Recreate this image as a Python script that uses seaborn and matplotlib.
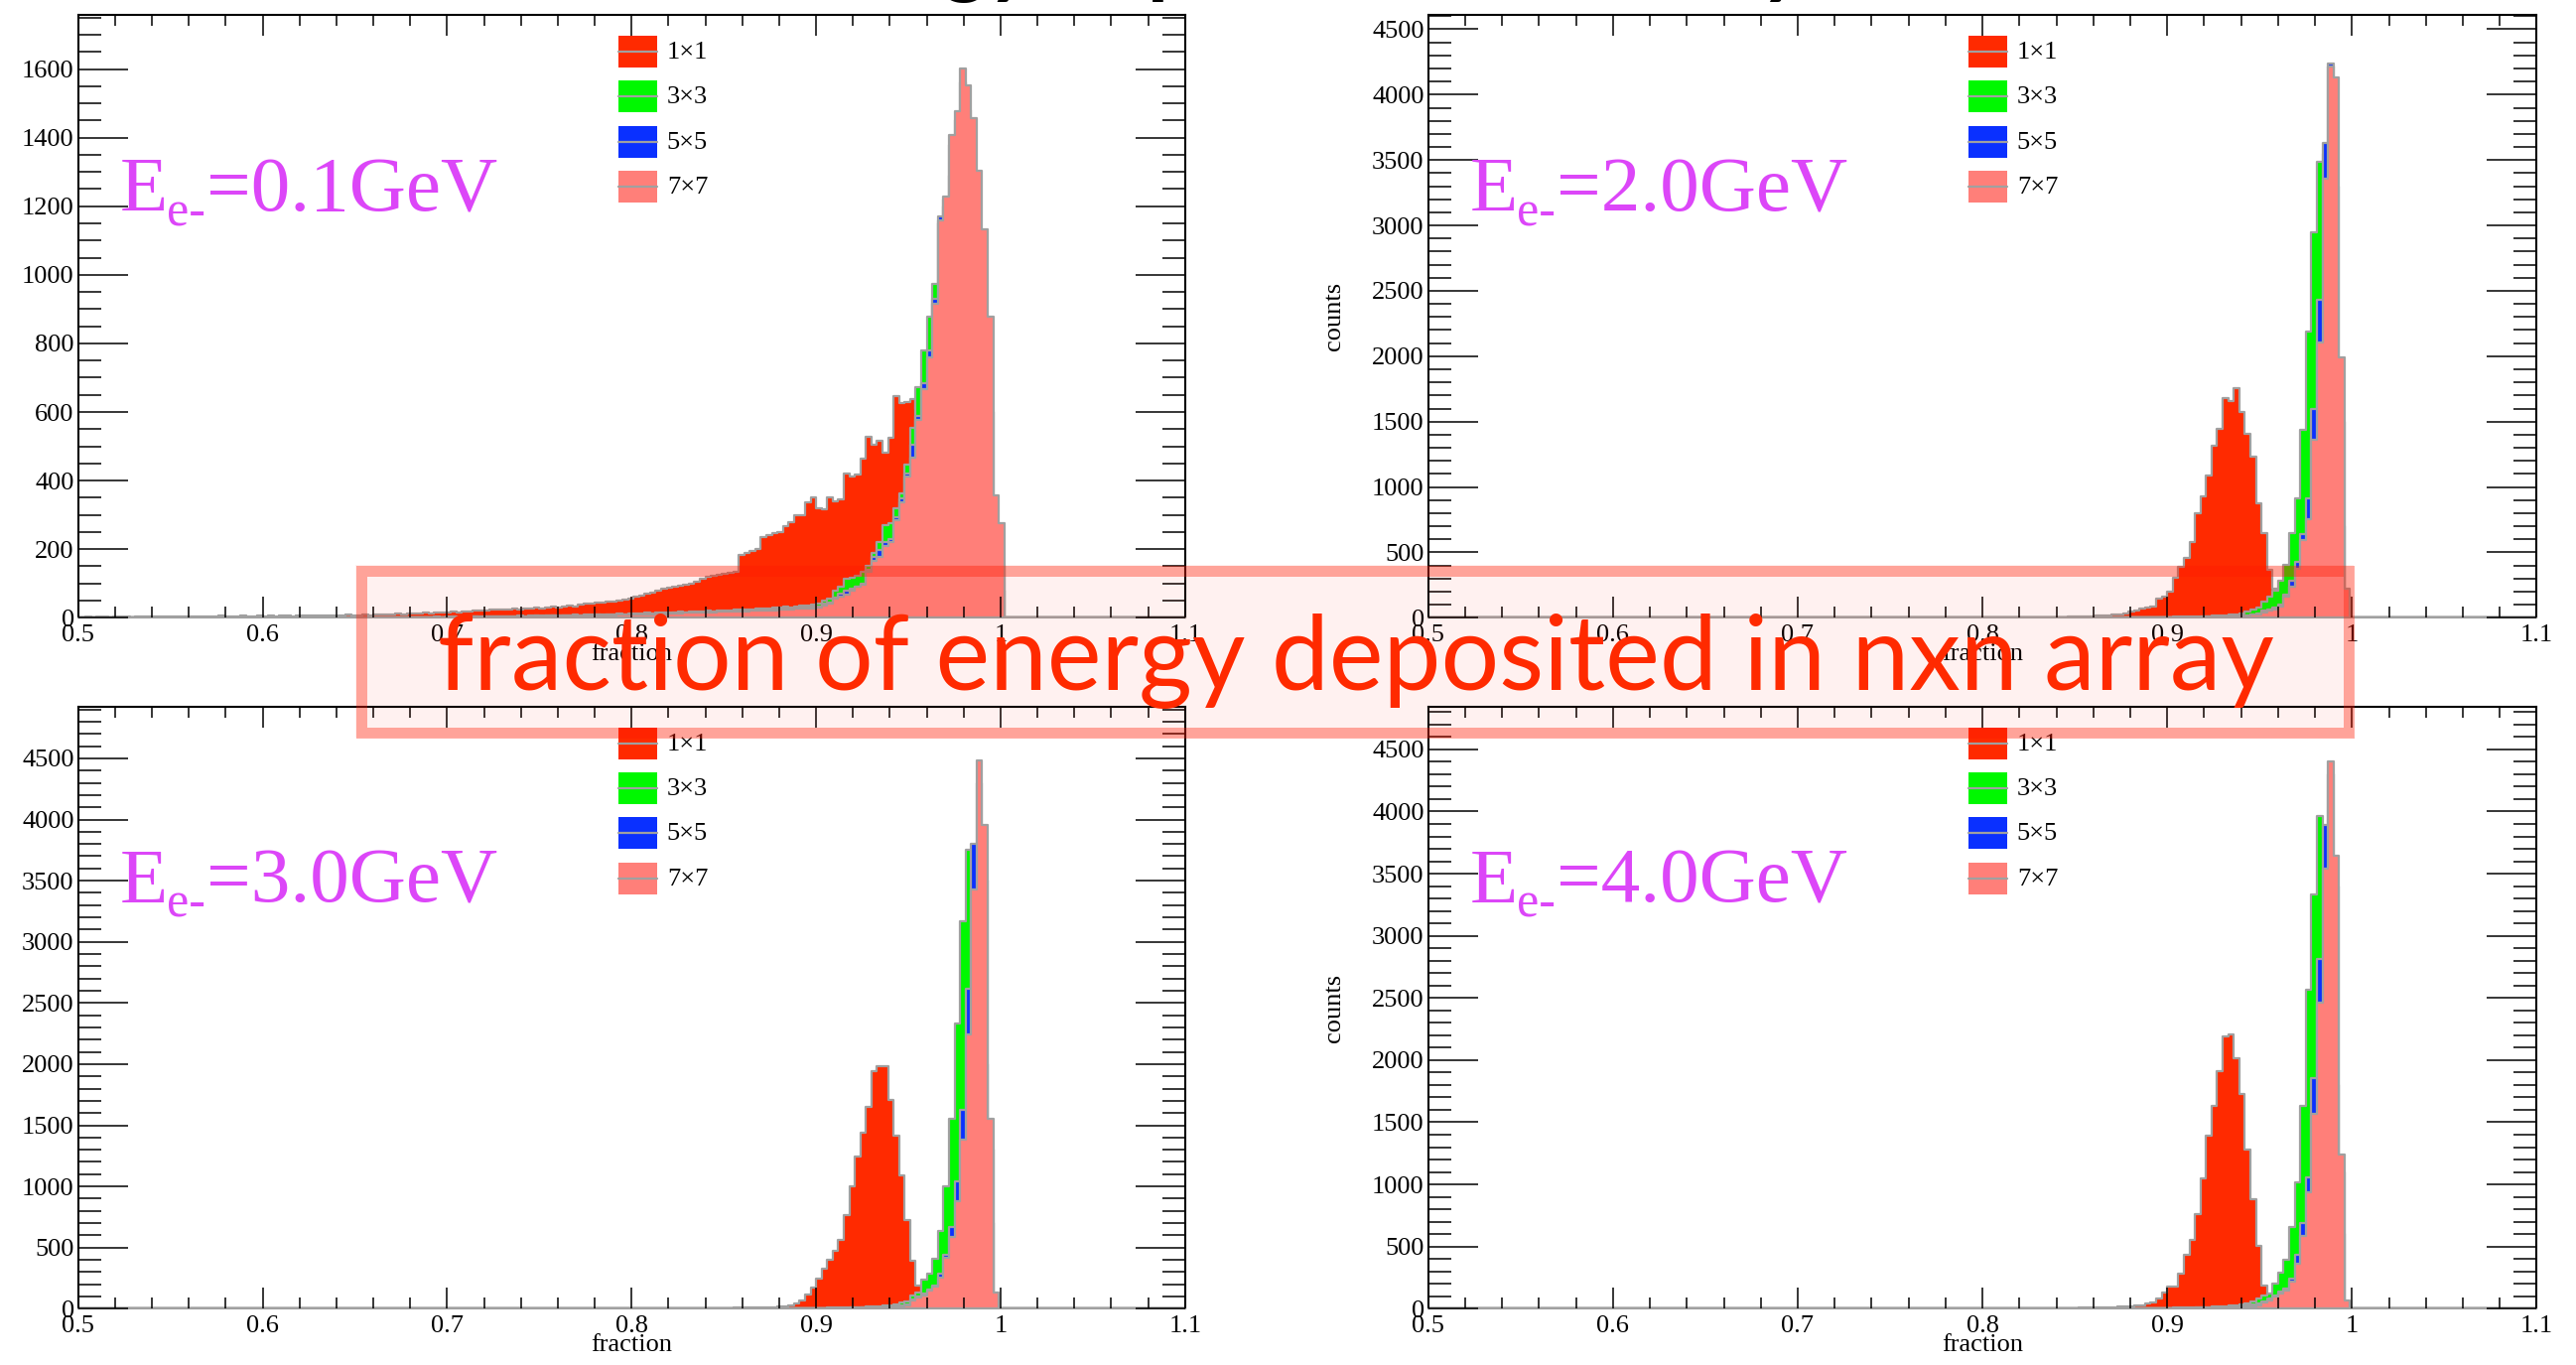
import numpy as np
import pandas as pd
import matplotlib
matplotlib.use("Agg")
import matplotlib.pyplot as plt
import seaborn as sns
from matplotlib.patches import Rectangle
from matplotlib.lines import Line2D
from matplotlib.ticker import MultipleLocator, FixedLocator
from matplotlib.transforms import IdentityTransform

sns.set_style("white")
plt.rcParams['font.family'] = ['Liberation Serif', 'DejaVu Serif']
plt.rcParams['text.color'] = 'black'
plt.rcParams['xtick.color'] = 'black'
plt.rcParams['ytick.color'] = 'black'

# ---------------- data ----------------
SERIES = ["1×1", "3×3", "5×5", "7×7"]
ENERGIES = ["0.1", "2.0", "3.0", "4.0"]
BIN_WIDTH = 0.003
EDGE_LO = 0.498
N_BINS = 202

# E = 0.1 GeV
E01_1x1_start = 0.501
E01_1x1 = [2, 3, 2, 4, 3, 2, 3, 4, 3, 2,
           3, 4, 3, 3, 5, 4, 3, 4, 5, 4,
           4, 3, 5, 4, 4, 6, 5, 4, 5, 6,
           5, 4, 6, 5, 7, 5, 6, 6, 5, 7,
           6, 7, 6, 8, 7, 6, 8, 7, 9, 8,
           8, 9, 8, 10, 9, 11, 10, 12, 11, 12,
           13, 12, 14, 13, 15, 14, 16, 17, 16, 18,
           19, 20, 22, 21, 24, 23, 25, 24, 26, 25,
           27, 26, 29, 28, 30, 32, 31, 33, 35, 34,
           38, 40, 42, 44, 43, 46, 48, 50, 52, 55,
           62, 66, 70, 72, 80, 84, 88, 90, 94, 96,
           100, 104, 115, 120, 122, 125, 128, 130, 135, 182,
           190, 196, 200, 236, 242, 248, 250, 268, 280, 300,
           300, 338, 350, 320, 315, 350, 341, 346, 422, 412,
           417, 463, 527, 506, 515, 482, 526, 646, 627, 628,
           638, 610, 560, 480, 400, 320, 250, 190, 140, 100,
           70, 50, 30, 20, 10, 5, 2]
E01_3x3_start = 0.651
E01_3x3 = [1, 0, 1, 1, 0, 1, 2, 1, 1, 2,
           2, 1, 2, 2, 3, 2, 3, 3, 2, 3,
           3, 4, 3, 4, 4, 5, 4, 5, 5, 6,
           5, 6, 6, 7, 6, 7, 8, 7, 8, 9,
           8, 9, 10, 9, 10, 11, 10, 12, 11, 12,
           12, 13, 14, 13, 15, 14, 16, 15, 17, 16,
           18, 17, 19, 20, 19, 21, 22, 21, 23, 24,
           25, 24, 27, 26, 28, 30, 29, 32, 31, 34,
           35, 37, 38, 41, 51, 57, 79, 90, 114, 117,
           122, 133, 150, 188, 220, 269, 275, 319, 362, 446,
           553, 673, 780, 878, 973, 1150, 1200, 1290, 1350, 1300,
           1150, 950, 700, 480, 300, 150, 80]
E01_5x5_start = 0.651
E01_5x5 = [0, 1, 0, 1, 1, 0, 1, 1, 1, 1,
           1, 2, 1, 2, 2, 2, 2, 3, 2, 3,
           3, 3, 3, 4, 3, 4, 4, 4, 5, 4,
           5, 5, 6, 5, 6, 6, 7, 6, 7, 7,
           7, 8, 8, 9, 8, 9, 9, 10, 10, 10,
           11, 11, 12, 12, 13, 12, 13, 14, 14, 15,
           15, 16, 16, 17, 18, 17, 19, 19, 20, 21,
           21, 22, 23, 23, 24, 25, 26, 27, 28, 29,
           30, 31, 33, 34, 40, 45, 60, 70, 80, 84,
           90, 100, 141, 177, 199, 221, 231, 293, 348, 422,
           504, 588, 684, 779, 929, 1170, 1220, 1380, 1450, 1560,
           1480, 1300, 1100, 850, 600, 250, 150]
E01_7x7_start = 0.651
E01_7x7 = [0, 0, 1, 0, 0, 1, 0, 1, 0, 1,
           1, 1, 1, 2, 1, 2, 2, 1, 2, 2,
           2, 3, 2, 3, 3, 3, 4, 3, 4, 4,
           4, 4, 5, 5, 5, 6, 5, 6, 6, 7,
           6, 7, 7, 8, 7, 8, 8, 9, 9, 9,
           10, 10, 11, 11, 12, 11, 12, 13, 13, 14,
           14, 15, 15, 16, 16, 17, 17, 18, 18, 19,
           19, 20, 20, 21, 22, 22, 23, 24, 25, 26,
           26, 27, 28, 30, 35, 41, 57, 62, 68, 79,
           90, 97, 133, 166, 177, 209, 220, 286, 337, 413,
           468, 577, 667, 758, 915, 1160, 1229, 1408, 1476, 1601,
           1553, 1456, 1303, 1133, 878, 356, 275]

# E = 2.0 GeV
E20_1x1_start = 0.801
E20_1x1 = [1, 2, 1, 2, 2, 3, 2, 3, 3, 4,
           4, 5, 5, 6, 6, 7, 8, 9, 10, 12,
           14, 16, 18, 22, 28, 36, 46, 55, 69, 75,
           83, 143, 163, 197, 306, 386, 454, 577, 797, 929,
           1091, 1319, 1448, 1677, 1654, 1756, 1577, 1406, 1234, 877,
           649, 363, 220, 110, 60, 30, 15, 8, 4, 2,
           1]
E20_3x3_start = 0.861
E20_3x3 = [1, 1, 2, 2, 2, 3, 3, 3, 4, 4,
           5, 5, 6, 6, 7, 8, 8, 9, 10, 12,
           13, 15, 17, 20, 24, 28, 35, 45, 60, 80,
           126, 163, 206, 283, 406, 649, 911, 1434, 2185, 2948,
           3490, 3550, 3000, 1800, 700, 100]
E20_5x5_start = 0.861
E20_5x5 = [0, 1, 1, 1, 1, 2, 2, 2, 2, 3,
           3, 3, 4, 4, 4, 5, 5, 6, 6, 7,
           8, 9, 10, 11, 13, 15, 17, 20, 24, 30,
           52, 62, 75, 101, 178, 283, 426, 643, 911, 1597,
           2433, 3633, 4235, 3300, 1500, 180]
E20_7x7_start = 0.861
E20_7x7 = [0, 0, 1, 1, 1, 1, 1, 2, 2, 2,
           2, 3, 3, 3, 4, 4, 5, 5, 6, 6,
           7, 8, 9, 10, 11, 13, 15, 18, 22, 28,
           44, 54, 63, 83, 158, 234, 377, 597, 757, 1363,
           2105, 3361, 4219, 4133, 1991, 226]

# E = 3.0 GeV
E30_1x1_start = 0.801
E30_1x1 = [1, 1, 2, 1, 2, 2, 2, 3, 2, 3,
           3, 3, 4, 4, 5, 5, 6, 6, 7, 8,
           8, 9, 10, 11, 12, 14, 16, 20, 28, 45,
           70, 120, 170, 250, 330, 400, 470, 559, 767, 1002,
           1247, 1436, 1653, 1940, 1980, 1980, 1706, 1415, 1094, 727,
           392, 193, 120, 60, 30, 15, 8, 4, 2, 1]
E30_3x3_start = 0.861
E30_3x3 = [1, 1, 1, 2, 2, 2, 3, 3, 3, 4,
           4, 5, 5, 6, 6, 7, 8, 9, 10, 11,
           12, 14, 16, 18, 21, 25, 30, 38, 48, 62,
           105, 132, 238, 284, 407, 636, 1002, 1552, 2331, 3171,
           3752, 3700, 3400, 2000, 700, 60]
E30_5x5_start = 0.861
E30_5x5 = [0, 1, 1, 1, 1, 1, 2, 2, 2, 2,
           3, 3, 3, 4, 4, 5, 5, 6, 6, 7,
           8, 9, 10, 11, 13, 15, 18, 22, 28, 35,
           78, 98, 125, 155, 187, 284, 437, 666, 1042, 1628,
           2615, 3804, 4300, 3500, 1300, 100]
E30_7x7_start = 0.861
E30_7x7 = [0, 0, 1, 0, 1, 1, 1, 1, 2, 2,
           2, 2, 3, 3, 3, 4, 4, 5, 5, 6,
           6, 7, 8, 9, 10, 12, 14, 18, 22, 28,
           70, 90, 110, 147, 178, 258, 413, 590, 880, 1384,
           2239, 3431, 4485, 3956, 1552, 131]

# E = 4.0 GeV
E40_1x1_start = 0.801
E40_1x1 = [1, 1, 1, 2, 1, 2, 2, 2, 3, 2,
           3, 3, 4, 4, 5, 5, 6, 7, 8, 9,
           10, 11, 12, 13, 15, 17, 20, 25, 30, 39,
           54, 85, 130, 175, 180, 280, 430, 550, 761, 1046,
           1392, 1633, 1909, 2189, 2204, 2014, 1729, 1278, 881, 506,
           190, 90, 45, 22, 11, 6, 3, 2, 1, 0]
E40_3x3_start = 0.861
E40_3x3 = [1, 1, 2, 2, 2, 3, 3, 3, 4, 4,
           5, 5, 6, 6, 7, 8, 9, 10, 11, 12,
           14, 16, 18, 21, 25, 30, 37, 46, 60, 85,
           110, 124, 204, 286, 394, 656, 1017, 1633, 2570, 3332,
           3968, 3800, 3200, 1800, 600, 40]
E40_5x5_start = 0.861
E40_5x5 = [0, 1, 1, 1, 1, 2, 2, 2, 2, 3,
           3, 3, 4, 4, 5, 5, 6, 6, 7, 8,
           9, 10, 11, 13, 15, 18, 22, 27, 34, 45,
           60, 80, 105, 135, 160, 240, 436, 686, 1055, 1858,
           2811, 3893, 4300, 3400, 1100, 60]
E40_7x7_start = 0.861
E40_7x7 = [0, 0, 0, 1, 1, 1, 1, 1, 1, 2,
           2, 2, 2, 3, 3, 3, 4, 4, 5, 5,
           6, 7, 8, 9, 10, 12, 14, 17, 22, 30,
           50, 70, 95, 125, 150, 215, 364, 586, 935, 1566,
           2459, 3542, 4407, 3641, 1242, 69]

PANEL_SERIES = [
    [(E01_1x1_start, E01_1x1), (E01_3x3_start, E01_3x3), (E01_5x5_start, E01_5x5), (E01_7x7_start, E01_7x7)],
    [(E20_1x1_start, E20_1x1), (E20_3x3_start, E20_3x3), (E20_5x5_start, E20_5x5), (E20_7x7_start, E20_7x7)],
    [(E30_1x1_start, E30_1x1), (E30_3x3_start, E30_3x3), (E30_5x5_start, E30_5x5), (E30_7x7_start, E30_7x7)],
    [(E40_1x1_start, E40_1x1), (E40_3x3_start, E40_3x3), (E40_5x5_start, E40_5x5), (E40_7x7_start, E40_7x7)],
]
Y_MAX = [1758, 4610, 4924, 4845]
Y_MAJOR_TICKS = [[0, 200, 400, 600, 800, 1000, 1200, 1400, 1600],
                 [0, 500, 1000, 1500, 2000, 2500, 3000, 3500, 4000, 4500],
                 [0, 500, 1000, 1500, 2000, 2500, 3000, 3500, 4000, 4500],
                 [0, 500, 1000, 1500, 2000, 2500, 3000, 3500, 4000, 4500]]
Y_MINOR_STEP = [50, 100, 100, 100]
X_TICKS = [0.5, 0.6, 0.7, 0.8, 0.9, 1.0, 1.1]
X_TICK_LABELS = ["0.5", "0.6", "0.7", "0.8", "0.9", "1", "1.1"]

# ---------------- style ----------------
FILL_COLORS = ['#ff2a00', '#00f800', '#0a30ff', '#ff7f79']
GREY = '#a0a0a0'
MAGENTA = '#dc46f8'
OVER_RED = '#ff1a00'

EDGES = [round(EDGE_LO + BIN_WIDTH * i, 3) for i in range(N_BINS + 1)]
CENTERS = [0.5 * (a + b) for a, b in zip(EDGES[:-1], EDGES[1:])]


def expand(start, vals):
    full = np.zeros(N_BINS)
    i0 = int(round((start - EDGE_LO) / BIN_WIDTH))
    full[i0:i0 + len(vals)] = vals
    return full


W, H = 2595, 1375
fig = plt.figure(figsize=(W / 100, H / 100), dpi=100)
fig.patch.set_facecolor('white')
renderer = fig.canvas.get_renderer()

BOXES = [(78.8, 15.0, 1193.8, 622.3), (1438.8, 15.0, 2555.4, 622.3),
         (78.8, 711.7, 1193.8, 1318.3), (1438.8, 711.7, 2555.4, 1318.3)]

for k, (x0, y0, x1, y1) in enumerate(BOXES):
    aw, ah = x1 - x0, y1 - y0
    ax = fig.add_axes([x0 / W, 1 - y1 / H, aw / W, ah / H])
    ax.set_facecolor('white')
    ax.set_axisbelow(False)
    for (start, vals), col in zip(PANEL_SERIES[k], FILL_COLORS):
        df = pd.DataFrame({'fraction': CENTERS, 'counts': expand(start, vals)})
        sns.histplot(data=df, x='fraction', weights='counts', bins=EDGES,
                     element='step', fill=True, color=col, alpha=1,
                     edgecolor=GREY, linewidth=1.6, ax=ax)
    ax.set_xlim(0.5, 1.1)
    ax.set_ylim(0, Y_MAX[k])
    ax.set_xlabel('')
    ax.set_ylabel('')
    ax.xaxis.set_major_locator(FixedLocator(X_TICKS))
    ax.set_xticklabels(X_TICK_LABELS)
    ax.xaxis.set_minor_locator(MultipleLocator(0.02))
    ax.yaxis.set_major_locator(FixedLocator(Y_MAJOR_TICKS[k]))
    ax.set_yticklabels([str(v) for v in Y_MAJOR_TICKS[k]])
    ax.yaxis.set_minor_locator(MultipleLocator(Y_MINOR_STEP[k]))
    ax.tick_params(axis='x', which='major', direction='in', length=14.9, width=1.1,
                   top=True, bottom=True, labelsize=19, pad=5, colors='black')
    ax.tick_params(axis='x', which='minor', direction='in', length=7.7, width=1.1,
                   top=True, bottom=True, colors='black')
    ax.tick_params(axis='y', which='major', direction='in', length=36, width=1.1,
                   left=True, right=True, labelsize=19, pad=3, colors='black')
    ax.tick_params(axis='y', which='minor', direction='in', length=16.6, width=1.1,
                   left=True, right=True, colors='black')
    for side, sp in ax.spines.items():
        sp.set_visible(True)
        sp.set_linewidth(1.5)
        sp.set_color(GREY if side == 'bottom' else 'black')

    # axis titles
    ax.text(0.5, -37 / ah, 'fraction', transform=ax.transAxes, ha='center',
            va='center', fontsize=19)
    ax.text(-95 / aw, 0.5, 'counts', transform=ax.transAxes, ha='center',
            va='center', rotation=90, fontsize=19)

    # legend
    for i, (name, col) in enumerate(zip(SERIES, FILL_COLORS)):
        top = 21 + 45.3 * i
        bx, by = 544.5 / aw, 1 - (top + 32) / ah
        ax.add_patch(Rectangle((bx, by), 39 / aw, 32 / ah, transform=ax.transAxes,
                               facecolor=col, edgecolor='none', zorder=4, clip_on=False))
        ax.add_line(Line2D([bx, bx + 39 / aw], [by + 16 / ah] * 2, transform=ax.transAxes,
                           color=GREY, lw=1.6, zorder=5, clip_on=False))
        ax.text(593 / aw, 1 - (top + 17) / ah, name, transform=ax.transAxes,
                ha='left', va='center', fontsize=19, zorder=5)

    # energy label: E, subscript "e-", then "=x.xGeV"
    ex, ey = ax.transAxes.transform((42 / aw, 1 - 197 / ah))
    t1 = ax.text(ex, ey, 'E', transform=IdentityTransform(), ha='left',
                 va='baseline', fontsize=57, color=MAGENTA, zorder=5)
    b1 = t1.get_window_extent(renderer)
    t2 = ax.text(b1.x1 - 1, ey - 15, 'e-', transform=IdentityTransform(), ha='left',
                 va='baseline', fontsize=36, color=MAGENTA, zorder=5)
    b2 = t2.get_window_extent(renderer)
    ax.text(b2.x1 + 1, ey, '=' + ENERGIES[k] + 'GeV', transform=IdentityTransform(),
            ha='left', va='baseline', fontsize=57, color=MAGENTA, zorder=5)

# cut-off slide title at the very top
fig.text(773 / W, 1 + 13 / H, 'Energy deposit in nxn array', family='Lato',
         fontweight='bold', fontsize=62, color='black', ha='left', va='baseline')

# overlay box
fig.add_artist(Rectangle((358 / W, 1 - 743 / H), (2371 - 358) / W, (743 - 569) / H,
                         transform=fig.transFigure, facecolor=OVER_RED, alpha=0.06,
                         edgecolor='none', zorder=10))
fig.add_artist(Rectangle((363.5 / W, 1 - 737.5 / H), (2365.5 - 363.5) / W, (737.5 - 574.5) / H,
                         transform=fig.transFigure, facecolor='none', edgecolor=OVER_RED,
                         alpha=0.36, linewidth=11 * 0.72, zorder=11))
big = fig.text(1366 / W, 1 - 695 / H, 'fraction of energy deposited in nxn array',
               family='Lato', fontsize=80, color='#ff2a00', ha='center', va='baseline',
               zorder=12)
bb = big.get_window_extent(renderer)
big.set_fontsize(80 * 1852 / bb.width)

fig.savefig('out.png', dpi=100, facecolor='white')
